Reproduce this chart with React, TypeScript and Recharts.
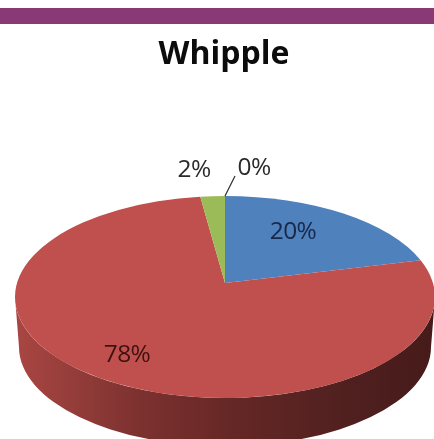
import React from "react";
import { PieChart, Pie, Cell } from "recharts";

const titleText = "Whipple";
const categories = ["Blue", "Red", "Green", "Purple"];
const values = [20, 78, 2, 0];
const labels = ["20%", "78%", "2%", "0%"];
const colors = ["#4f81bd", "#c0504d", "#9bbb59", "#8064a2"];
const labelOffsets = [[69, -68], [-97, 55], [-30, -130], [30, -132]];

const W = 434, H = 439, CX = 225, CY = 297, R = 210;
const TILT = 0.481, APEX_LIFT = 14, DEPTH = 50, SHRINK = 4, WARP = 3.5;
const rad = Math.PI / 180;
const pt = (cx: number, cy: number, rx: number, a: number) =>
  [cx + rx * Math.cos(a * rad), cy - rx * TILT * Math.sin(a * rad)];
const warp = (a: number) => a + WARP * Math.cos(a * rad);
const fmt = (p: number[]) => `${p[0].toFixed(2)} ${p[1].toFixed(2)}`;

const tableData = categories.map((name, i) => ({ name, value: values[i] }));

function EllipseSector(props: any) {
  const { cx, cy, outerRadius, startAngle, endAngle, fill } = props;
  const ry = outerRadius * TILT;
  const p1 = pt(cx, cy, outerRadius, warp(startAngle));
  const p2 = pt(cx, cy, outerRadius, warp(endAngle));
  const span = Math.abs(startAngle - endAngle);
  const top = `M ${cx} ${cy - APEX_LIFT} L ${fmt(p1)} A ${outerRadius} ${ry} 0 ${span > 180 ? 1 : 0} 1 ${fmt(p2)} Z`;

  // Front wall: the part of the sector lying in the lower half of the ellipse
  const wallStart = Math.min(startAngle, 0);
  const wallEnd = Math.max(endAngle, -180);
  let wall = null;
  if (wallStart > wallEnd) {
    const r2 = outerRadius - SHRINK;
    const a = pt(cx, cy, outerRadius, wallStart);
    const b = pt(cx, cy, outerRadius, wallEnd);
    const c = pt(cx, cy + DEPTH, r2, wallEnd);
    const d = pt(cx, cy + DEPTH, r2, wallStart);
    const large = wallStart - wallEnd >= 180 ? 1 : 0;
    wall = (
      <path
        d={`M ${fmt(a)} A ${outerRadius} ${ry} 0 ${large} 1 ${fmt(b)} L ${fmt(c)} A ${r2} ${r2 * TILT} 0 ${large} 0 ${fmt(d)} Z`}
        fill="url(#wallGradient)"
      />
    );
  }
  return (
    <g>
      <defs>
        <linearGradient id="wallGradient" x1="0" y1="0" x2="1" y2="0">
          <stop offset="0" stopColor="#a94643" />
          <stop offset="0.12" stopColor="#973e3b" />
          <stop offset="0.3" stopColor="#7c312f" />
          <stop offset="0.5" stopColor="#672826" />
          <stop offset="0.75" stopColor="#522120" />
          <stop offset="1" stopColor="#451b1a" />
        </linearGradient>
      </defs>
      {wall}
      <path d={top} fill={fill} />
    </g>
  );
}

function SliceLabel(props: any) {
  const { cx, cy, outerRadius, midAngle, index } = props;
  const [dx, dy] = labelOffsets[index];
  const x = cx + dx - 1;
  const y = cy + dy;
  const rim = pt(cx, cy, outerRadius, midAngle);
  return (
    <g>
      {values[index] === 0 && (
        <line x1={rim[0]} y1={rim[1]} x2={rim[0] + 10} y2={rim[1] - 20} stroke="#333" strokeWidth={1.3} />
      )}
      <text
        x={x}
        y={y}
        textAnchor="middle"
        dominantBaseline="central"
        fontFamily="'Open Sans', sans-serif"
        fontSize={24.5}
        fill={index === 0 ? "#17284a" : index === 1 ? "#3f1211" : "#2b2b2b"}
        style={{ letterSpacing: -0.6 }}
      >
        {labels[index]}
      </text>
    </g>
  );
}

export default function App() {
  return (
    <div style={{ position: "absolute", left: 0, top: 0, width: W, height: H, overflow: "hidden", background: "#fff", filter: "blur(0.5px)" }}>
      <div style={{ position: "absolute", left: 0, top: 8, width: W, height: 16, background: "#893a76" }} />
      <PieChart width={W} height={H} margin={{ top: 0, right: 0, bottom: 0, left: 0 }}>
        <text
          x={224}
          y={51}
          textAnchor="middle"
          dominantBaseline="central"
          fontFamily="'Open Sans', sans-serif"
          fontWeight={700}
          fontSize={32}
          fill="#0c0c0c"
        >
          {titleText}
        </text>
        <Pie
          data={tableData}
          dataKey="value"
          nameKey="name"
          cx={CX}
          cy={CY}
          innerRadius={0}
          outerRadius={R}
          startAngle={90}
          endAngle={-270}
          stroke="none"
          isAnimationActive={false}
          shape={EllipseSector}
          label={SliceLabel}
          labelLine={false}
        >
          {tableData.map((d, i) => (
            <Cell key={d.name} fill={colors[i]} />
          ))}
        </Pie>
      </PieChart>
    </div>
  );
}
